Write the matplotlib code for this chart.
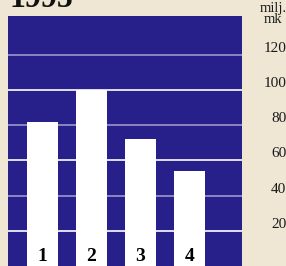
import matplotlib
matplotlib.use("Agg")
import matplotlib.pyplot as plt

# data
quarters = ["1", "2", "3", "4"]
values = [82, 100, 72, 54]
ticks = [20, 40, 60, 80, 100, 120]
title = "1995"
unit = "milj.\nmk"

bg = "#efe7d3"
panel = "#28208a"
grid_colors = ["#ffffff", "#9c98cc", "#ffffff", "#9c98cc", "#ffffff", "#9c98cc"]

fig = plt.figure(figsize=(2.86, 2.66), dpi=100)
fig.patch.set_facecolor(bg)

ax = fig.add_axes([8 / 286, 0, 234 / 286, 250 / 266])
ax.set_facecolor(panel)
x = list(range(1, len(values) + 1))

for t, c in zip(ticks, grid_colors):
    ax.axhline(t, color=c, lw=1.2, zorder=1)

ax.bar(x, values, width=0.63, color="white", zorder=2)
for xi, q in zip(x, quarters):
    ax.text(xi, 3, q, ha="center", va="baseline", fontsize=14,
            fontweight="bold", family="Liberation Serif", color="black", zorder=3)

ax.set_xlim(0.30, 5.08)
ax.set_ylim(0, 142)
ax.set_xticks([])
ax.yaxis.tick_right()
ax.set_yticks(ticks)
ax.set_yticklabels([str(t) for t in ticks])
ax.tick_params(axis="y", length=0, pad=32)
for lbl in ax.get_yticklabels():
    lbl.set_horizontalalignment("right")
    lbl.set_verticalalignment("bottom")
    lbl.set_fontfamily("Liberation Serif")
    lbl.set_fontsize(11)
    lbl.set_color("#1a1a1a")
for s in ax.spines.values():
    s.set_visible(False)

fig.text(10 / 286, 259 / 266, title, ha="left", va="baseline", fontsize=23,
         fontweight="bold", family="Liberation Serif", color="#111111")
fig.text(273 / 286, 1 - 2 / 266, unit, ha="center", va="top", fontsize=10.5,
         family="Liberation Serif", color="#1a1a1a", linespacing=0.8,
         multialignment="center")

fig.savefig("out.png", dpi=100, facecolor=bg)
